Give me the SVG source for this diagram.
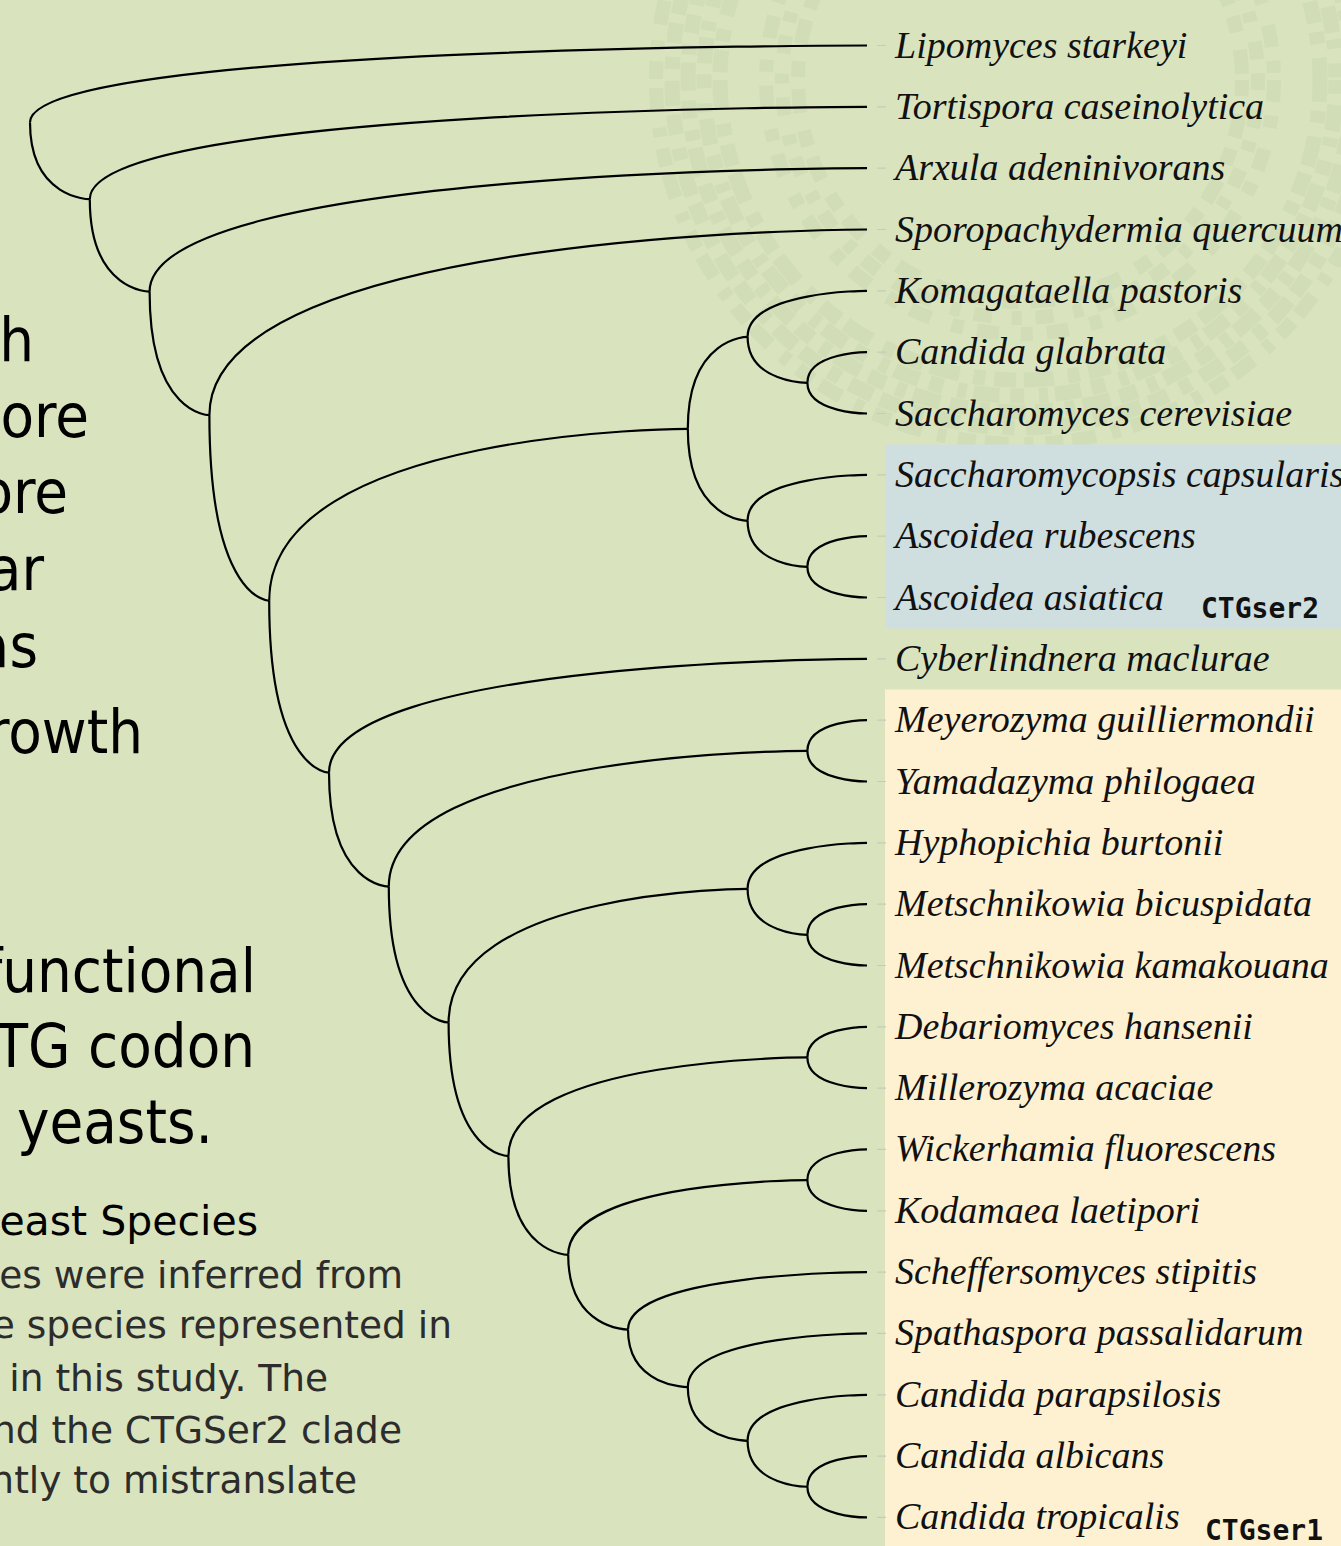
<svg xmlns="http://www.w3.org/2000/svg" width="1341" height="1546" viewBox="0 0 1341 1546">
<style>
.br{fill:none;stroke:#000;stroke-width:2.2}
.tk{stroke:#c4cdb8;stroke-width:1.2}
.lab{font-family:"Liberation Serif",serif;font-style:italic;font-size:38px;fill:#111}
.clade{font-family:"DejaVu Sans Mono",monospace;font-weight:bold;font-size:28px;fill:#111}
.big{font-family:"DejaVu Sans Condensed","DejaVu Sans",sans-serif;font-stretch:condensed;font-size:61px;fill:#000;text-anchor:end}
.hd{font-family:"DejaVu Sans",sans-serif;font-size:41px;fill:#000;text-anchor:end}
.body{font-family:"DejaVu Sans",sans-serif;font-size:37.5px;fill:#2c2c2c;text-anchor:end}
.wm{fill:none;stroke:#cad7af;opacity:0.55}
</style>
<rect x="0" y="0" width="1341" height="1546" fill="#d9e4bf"/>
<g id="watermark">
<circle class="wm" cx="1020" cy="80" r="300" stroke-width="15" stroke-dasharray="22 9 12 14 30 8"/>
<circle class="wm" cx="1020" cy="80" r="316" stroke-width="15" stroke-dasharray="14 11 26 7 9 15"/>
<circle class="wm" cx="1020" cy="80" r="332" stroke-width="15" stroke-dasharray="28 8 10 12 18 10"/>
<circle class="wm" cx="1020" cy="80" r="348" stroke-width="15" stroke-dasharray="12 14 20 9 25 12"/>
<circle class="wm" cx="1020" cy="80" r="364" stroke-width="14" stroke-dasharray="18 12 9 16 24 9"/>
<circle class="wm" cx="1020" cy="80" r="222" stroke-width="14" stroke-dasharray="16 18 24 12"/>
<circle class="wm" cx="1020" cy="80" r="238" stroke-width="14" stroke-dasharray="10 20 18 14"/>
<circle class="wm" cx="1020" cy="80" r="254" stroke-width="14" stroke-dasharray="22 14 12 22"/>
</g>
<g id="ctgser2-box"><rect x="885" y="444.5" width="456" height="184" fill="#cfdedf"/></g>
<g id="ctgser1-box"><rect x="885" y="689.5" width="456" height="857" fill="#fef1d1"/></g>
<g id="sidebar-text">
<text class="big" x="34" y="361">h</text>
<text class="big" x="89" y="437">ore</text>
<text class="big" x="68" y="513">ore</text>
<text class="big" x="44" y="590">ar</text>
<text class="big" x="38" y="667">as</text>
<text class="big" x="143" y="753">rowth</text>
<text class="big" x="256" y="992">functional</text>
<text class="big" x="255" y="1067">TG codon</text>
<text class="big" x="213" y="1143">yeasts.</text>
<text class="hd" x="258" y="1235">east Species</text>
<text class="body" x="403" y="1288">es were inferred from</text>
<text class="body" x="452" y="1338">e species represented in</text>
<text class="body" x="328" y="1391">in this study. The</text>
<text class="body" x="402" y="1443">nd the CTGSer2 clade</text>
<text class="body" x="357" y="1493">ntly to mistranslate</text>
</g>
<g id="connectors">
<path class="br" d="M30,122.35 C30,45.5 867,45.5 867,45.5"/>
<path class="br" d="M30,122.35 C30,199.2 89.8,199.2 89.8,199.2"/>
<path class="br" d="M89.8,199.2 C89.8,106.8 867,106.8 867,106.8"/>
<path class="br" d="M89.8,199.2 C89.8,291.65 149.6,291.65 149.6,291.65"/>
<path class="br" d="M149.6,291.65 C149.6,168.2 867,168.2 867,168.2"/>
<path class="br" d="M149.6,291.65 C149.6,415.1 209.4,415.1 209.4,415.1"/>
<path class="br" d="M209.4,415.1 C209.4,229.5 867,229.5 867,229.5"/>
<path class="br" d="M209.4,415.1 C209.4,600.75 269.2,600.75 269.2,600.75"/>
<path class="br" d="M269.2,600.75 C269.2,428.8 687.8,428.8 687.8,428.8"/>
<path class="br" d="M269.2,600.75 C269.2,772.7 329,772.7 329,772.7"/>
<path class="br" d="M687.8,428.8 C687.8,336.8 747.6,336.8 747.6,336.8"/>
<path class="br" d="M687.8,428.8 C687.8,520.8 747.6,520.8 747.6,520.8"/>
<path class="br" d="M747.6,336.8 C747.6,290.8 867,290.8 867,290.8"/>
<path class="br" d="M747.6,336.8 C747.6,382.85 807.4,382.85 807.4,382.85"/>
<path class="br" d="M807.4,382.85 C807.4,352.2 867,352.2 867,352.2"/>
<path class="br" d="M807.4,382.85 C807.4,413.5 867,413.5 867,413.5"/>
<path class="br" d="M747.6,520.8 C747.6,474.8 867,474.8 867,474.8"/>
<path class="br" d="M747.6,520.8 C747.6,566.8 807.4,566.8 807.4,566.8"/>
<path class="br" d="M807.4,566.8 C807.4,536.1 867,536.1 867,536.1"/>
<path class="br" d="M807.4,566.8 C807.4,597.5 867,597.5 867,597.5"/>
<path class="br" d="M329,772.7 C329,658.8 867,658.8 867,658.8"/>
<path class="br" d="M329,772.7 C329,886.65 388.8,886.65 388.8,886.65"/>
<path class="br" d="M388.8,886.65 C388.8,750.8 807.4,750.8 807.4,750.8"/>
<path class="br" d="M388.8,886.65 C388.8,1022.5 448.6,1022.5 448.6,1022.5"/>
<path class="br" d="M807.4,750.8 C807.4,720.1 867,720.1 867,720.1"/>
<path class="br" d="M807.4,750.8 C807.4,781.5 867,781.5 867,781.5"/>
<path class="br" d="M448.6,1022.5 C448.6,888.8 747.6,888.8 747.6,888.8"/>
<path class="br" d="M448.6,1022.5 C448.6,1156.15 508.4,1156.15 508.4,1156.15"/>
<path class="br" d="M747.6,888.8 C747.6,842.8 867,842.8 867,842.8"/>
<path class="br" d="M747.6,888.8 C747.6,934.8 807.4,934.8 807.4,934.8"/>
<path class="br" d="M807.4,934.8 C807.4,904.1 867,904.1 867,904.1"/>
<path class="br" d="M807.4,934.8 C807.4,965.5 867,965.5 867,965.5"/>
<path class="br" d="M508.4,1156.15 C508.4,1057.45 807.4,1057.45 807.4,1057.45"/>
<path class="br" d="M508.4,1156.15 C508.4,1254.85 568.2,1254.85 568.2,1254.85"/>
<path class="br" d="M807.4,1057.45 C807.4,1026.8 867,1026.8 867,1026.8"/>
<path class="br" d="M807.4,1057.45 C807.4,1088.1 867,1088.1 867,1088.1"/>
<path class="br" d="M568.2,1254.85 C568.2,1180.1 807.4,1180.1 807.4,1180.1"/>
<path class="br" d="M568.2,1254.85 C568.2,1329.6 628,1329.6 628,1329.6"/>
<path class="br" d="M807.4,1180.1 C807.4,1149.4 867,1149.4 867,1149.4"/>
<path class="br" d="M807.4,1180.1 C807.4,1210.8 867,1210.8 867,1210.8"/>
<path class="br" d="M628,1329.6 C628,1272.1 867,1272.1 867,1272.1"/>
<path class="br" d="M628,1329.6 C628,1387.1 687.8,1387.1 687.8,1387.1"/>
<path class="br" d="M687.8,1387.1 C687.8,1333.4 867,1333.4 867,1333.4"/>
<path class="br" d="M687.8,1387.1 C687.8,1440.8 747.6,1440.8 747.6,1440.8"/>
<path class="br" d="M747.6,1440.8 C747.6,1394.8 867,1394.8 867,1394.8"/>
<path class="br" d="M747.6,1440.8 C747.6,1486.75 807.4,1486.75 807.4,1486.75"/>
<path class="br" d="M807.4,1486.75 C807.4,1456.1 867,1456.1 867,1456.1"/>
<path class="br" d="M807.4,1486.75 C807.4,1517.4 867,1517.4 867,1517.4"/>
<g id="ticks">
<path class="tk" d="M877,45.5h9M877,106.8h9M877,168.2h9M877,229.5h9M877,290.8h9M877,352.2h9M877,413.5h9M877,474.8h9M877,536.1h9M877,597.5h9M877,658.8h9M877,720.1h9M877,781.5h9M877,842.8h9M877,904.1h9M877,965.5h9M877,1026.8h9M877,1088.1h9M877,1149.4h9M877,1210.8h9M877,1272.1h9M877,1333.4h9M877,1394.8h9M877,1456.1h9M877,1517.4h9"/>
</g>
</g>
<g id="leaves">
<text class="lab" x="895" y="57.5">Lipomyces starkeyi</text>
<text class="lab" x="895" y="118.8">Tortispora caseinolytica</text>
<text class="lab" x="895" y="180.2">Arxula adeninivorans</text>
<text class="lab" x="895" y="241.5">Sporopachydermia quercuum</text>
<text class="lab" x="895" y="302.8">Komagataella pastoris</text>
<text class="lab" x="895" y="364.2">Candida glabrata</text>
<text class="lab" x="895" y="425.5">Saccharomyces cerevisiae</text>
<text class="lab" x="895" y="486.8">Saccharomycopsis capsularis</text>
<text class="lab" x="895" y="548.1">Ascoidea rubescens</text>
<text class="lab" x="895" y="609.5">Ascoidea asiatica</text>
<text class="lab" x="895" y="670.8">Cyberlindnera maclurae</text>
<text class="lab" x="895" y="732.1">Meyerozyma guilliermondii</text>
<text class="lab" x="895" y="793.5">Yamadazyma philogaea</text>
<text class="lab" x="895" y="854.8">Hyphopichia burtonii</text>
<text class="lab" x="895" y="916.1">Metschnikowia bicuspidata</text>
<text class="lab" x="895" y="977.5">Metschnikowia kamakouana</text>
<text class="lab" x="895" y="1038.8">Debariomyces hansenii</text>
<text class="lab" x="895" y="1100.1">Millerozyma acaciae</text>
<text class="lab" x="895" y="1161.4">Wickerhamia fluorescens</text>
<text class="lab" x="895" y="1222.8">Kodamaea laetipori</text>
<text class="lab" x="895" y="1284.1">Scheffersomyces stipitis</text>
<text class="lab" x="895" y="1345.4">Spathaspora passalidarum</text>
<text class="lab" x="895" y="1406.8">Candida parapsilosis</text>
<text class="lab" x="895" y="1468.1">Candida albicans</text>
<text class="lab" x="895" y="1529.4">Candida tropicalis</text>
</g>
<g id="clade-labels">
<text class="clade" x="1201" y="618">CTGser2</text>
<text class="clade" x="1205" y="1540">CTGser1</text>
</g>
</svg>
